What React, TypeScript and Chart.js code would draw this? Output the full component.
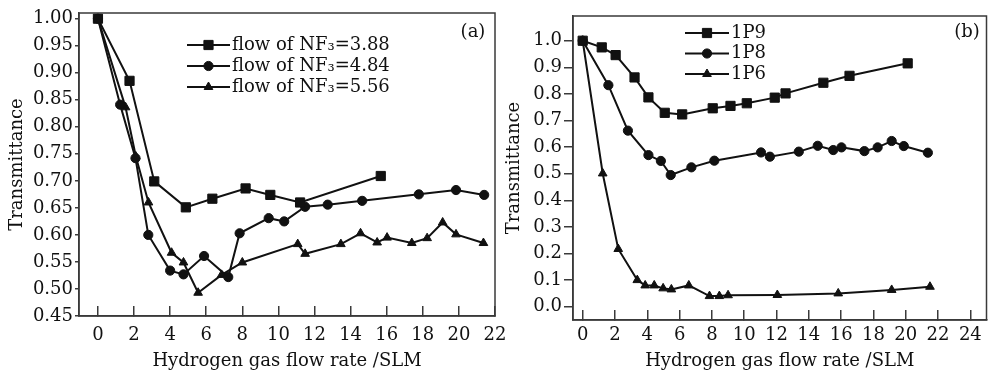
import React, { useEffect, useRef } from "react";
import { Chart, registerables } from "chart.js";
import { drawPoint } from "chart.js/helpers";

Chart.register(...registerables);

const FONT = "'DejaVu Serif', 'Liberation Serif', serif";
const INK = "#111111";
const AXIS = "#3a3a3a";

// ---------- Panel (a) ----------
const aLabels = ["flow of NF\u2083=3.88", "flow of NF\u2083=4.84", "flow of NF\u2083=5.56"];
const aX1 = [0, 1.75, 3.12, 4.87, 6.34, 8.18, 9.55, 11.2, 15.67];
const aY1 = [1.0, 0.885, 0.699, 0.651, 0.667, 0.686, 0.674, 0.66, 0.709];
const aX2 = [0, 1.23, 2.08, 2.79, 4.0, 4.74, 5.88, 7.22, 7.85, 9.46, 10.32, 11.48, 12.73, 14.64, 17.78, 19.84, 21.4];
const aY2 = [1.0, 0.841, 0.742, 0.6, 0.534, 0.527, 0.561, 0.522, 0.603, 0.631, 0.625, 0.652, 0.656, 0.663, 0.675, 0.683, 0.674];
const aX3 = [0, 1.53, 2.1, 2.8, 4.08, 4.74, 5.55, 6.85, 8.0, 11.07, 11.48, 13.46, 14.55, 15.47, 16.02, 17.39, 18.24, 19.1, 19.84, 21.36];
const aY3 = [1.0, 0.836, 0.745, 0.66, 0.567, 0.549, 0.493, 0.526, 0.549, 0.583, 0.565, 0.583, 0.603, 0.586, 0.595, 0.585, 0.594, 0.623, 0.601, 0.585];
const aXTicks = [0, 2, 4, 6, 8, 10, 12, 14, 16, 18, 20, 22];
const aYTicks = [0.45, 0.5, 0.55, 0.6, 0.65, 0.7, 0.75, 0.8, 0.85, 0.9, 0.95, 1.0];

// ---------- Panel (b) ----------
const bLabels = ["1P9", "1P8", "1P6"];
const bX1 = [0, 1.18, 2.04, 3.21, 4.07, 5.08, 6.16, 8.05, 9.15, 10.16, 11.89, 12.56, 14.9, 16.52, 20.12];
const bY1 = [1.0, 0.975, 0.946, 0.862, 0.787, 0.729, 0.723, 0.746, 0.755, 0.765, 0.786, 0.802, 0.842, 0.868, 0.915];
const bX2 = [0, 1.59, 2.8, 4.07, 4.84, 5.45, 6.73, 8.15, 11.04, 11.59, 13.38, 14.55, 15.51, 16.02, 17.44, 18.26, 19.13, 19.88, 21.37];
const bY2 = [1.0, 0.833, 0.662, 0.57, 0.548, 0.495, 0.524, 0.549, 0.58, 0.564, 0.583, 0.605, 0.589, 0.599, 0.585, 0.599, 0.623, 0.604, 0.579];
const bX3 = [0, 1.24, 2.2, 3.38, 3.87, 4.43, 4.98, 5.49, 6.57, 7.85, 8.46, 9.0, 12.05, 15.82, 19.13, 21.5];
const bY3 = [1.0, 0.501, 0.217, 0.1, 0.08, 0.08, 0.069, 0.065, 0.08, 0.04, 0.04, 0.043, 0.044, 0.05, 0.063, 0.075];
const bXTicks = [0, 2, 4, 6, 8, 10, 12, 14, 16, 18, 20, 22, 24];
const bYTicks = [0, 0.1, 0.2, 0.3, 0.4, 0.5, 0.6, 0.7, 0.8, 0.9, 1.0];

const xTitle = "Hydrogen gas flow rate /SLM";
const yTitle = "Transmittance";

const styles = [
  { pointStyle: "rect", pointRadius: 6.5 },
  { pointStyle: "circle", pointRadius: 4.6 },
  { pointStyle: "triangle", pointRadius: 5 },
];

const pairs = (xs: number[], ys: number[]) => xs.map((x, i) => ({ x, y: ys[i] }));

const overlayPlugin = {
  id: "overlay",
  afterDraw(chart: any, _args: any, opts: any) {
    const ctx = chart.ctx as CanvasRenderingContext2D;
    const { left, top, right, bottom } = chart.chartArea;
    ctx.save();
    ctx.strokeStyle = AXIS;
    ctx.lineWidth = 1.5;
    ctx.strokeRect(left, top, right - left, bottom - top);
    ctx.font = `18px ${FONT}`;
    chart.data.datasets.forEach((ds: any, i: number) => {
      const y = opts.rows[i];
      ctx.strokeStyle = INK;
      ctx.lineWidth = 2;
      ctx.beginPath();
      ctx.moveTo(opts.x0, y);
      ctx.lineTo(opts.x1, y);
      ctx.stroke();
      ctx.fillStyle = INK;
      ctx.lineWidth = 1;
      drawPoint(
        ctx,
        { pointStyle: ds.pointStyle, radius: ds.pointRadius, rotation: 0, borderWidth: 1 } as any,
        (opts.x0 + opts.x1) / 2,
        y
      );
      ctx.fillStyle = INK;
      ctx.textAlign = "left";
      ctx.textBaseline = "middle";
      ctx.fillText(ds.label, opts.xText, y);
    });
    ctx.textAlign = "center";
    ctx.textBaseline = "middle";
    ctx.fillText(opts.tag, opts.tagX, opts.tagY);
    ctx.restore();
  },
};

type Spec = {
  left: number;
  width: number;
  labels: string[];
  xs: number[][];
  ys: number[][];
  xTicks: number[];
  yTicks: number[];
  xMin: number;
  xMax: number;
  yMin: number;
  yMax: number;
  yDigits: number;
  yAxisW: number;
  xAxisH: number;
  padTop: number;
  padRight: number;
  yTickLen: number;
  xLabelPad: number;
  yTitlePad: number;
  legend: any;
};

function buildConfig(s: Spec): any {
  const font = { family: FONT, size: 18 };
  return {
    type: "line",
    data: {
      datasets: s.labels.map((label, i) => ({
        label,
        data: pairs(s.xs[i], s.ys[i]),
        borderColor: INK,
        backgroundColor: INK,
        borderWidth: 2,
        pointBackgroundColor: INK,
        pointBorderColor: INK,
        pointBorderWidth: 1,
        tension: 0,
        ...styles[i],
      })),
    },
    options: {
      animation: false,
      responsive: false,
      layout: { padding: { top: s.padTop, right: s.padRight, left: 0, bottom: 0 } },
      plugins: {
        legend: { display: false },
        tooltip: { enabled: false },
        overlay: s.legend,
      },
      scales: {
        x: {
          type: "linear",
          min: s.xMin,
          max: s.xMax,
          afterBuildTicks: (sc: any) => {
            sc.ticks = s.xTicks.map((v) => ({ value: v }));
          },
          afterFit: (sc: any) => {
            sc.height = s.xAxisH;
            sc.paddingLeft = 0;
            sc.paddingRight = 0;
          },
          grid: { drawOnChartArea: false, drawTicks: true, tickLength: -10, color: AXIS, lineWidth: 1.5 },
          border: { display: true, color: AXIS, width: 1.5 },
          ticks: {
            font,
            color: INK,
            padding: s.xLabelPad,
            maxRotation: 0,
            autoSkip: false,
            callback: (v: any) => String(v),
          },
          title: { display: true, text: xTitle, font, color: INK, padding: { top: 0, bottom: 2 } },
        },
        y: {
          type: "linear",
          min: s.yMin,
          max: s.yMax,
          afterBuildTicks: (sc: any) => {
            sc.ticks = s.yTicks.map((v) => ({ value: v }));
          },
          afterFit: (sc: any) => {
            sc.width = s.yAxisW;
            sc.paddingTop = 0;
            sc.paddingBottom = 0;
          },
          grid: { drawOnChartArea: false, drawTicks: true, tickLength: s.yTickLen, color: AXIS, lineWidth: 1.5 },
          border: { display: true, color: AXIS, width: 1.5 },
          ticks: {
            font,
            color: INK,
            padding: 2,
            autoSkip: false,
            callback: (v: any) => Number(v).toFixed(s.yDigits),
          },
          title: { display: true, text: yTitle, font, color: INK, padding: { top: s.yTitlePad, bottom: 0 } },
        },
      },
    },
    plugins: [overlayPlugin],
  };
}

const specA: Spec = {
  left: 0,
  width: 520,
  labels: aLabels,
  xs: [aX1, aX2, aX3],
  ys: [aY1, aY2, aY3],
  xTicks: aXTicks,
  yTicks: aYTicks,
  xMin: -1.05,
  xMax: 22,
  yMin: 0.45,
  yMax: 1.0105,
  yDigits: 2,
  yAxisW: 79,
  xAxisH: 58,
  padTop: 13,
  padRight: 25,
  yTickLen: 4,
  xLabelPad: 19,
  yTitlePad: 7,
  legend: { rows: [45, 66, 87], x0: 187, x1: 230, xText: 232, tag: "(a)", tagX: 473, tagY: 32 },
};

const specB: Spec = {
  left: 500,
  width: 494,
  labels: bLabels,
  xs: [bX1, bX2, bX3],
  ys: [bY1, bY2, bY3],
  xTicks: bXTicks,
  yTicks: bYTicks,
  xMin: -0.6,
  xMax: 25,
  yMin: -0.05,
  yMax: 1.093,
  yDigits: 1,
  yAxisW: 73,
  xAxisH: 54,
  padTop: 16,
  padRight: 2,
  yTickLen: 9,
  xLabelPad: 15,
  yTitlePad: 4,
  legend: { rows: [33, 53.5, 74], x0: 185, x1: 229, xText: 231, tag: "(b)", tagX: 467, tagY: 32 },
};

function Panel({ spec }: { spec: Spec }) {
  const ref = useRef<HTMLCanvasElement>(null);
  useEffect(() => {
    const chart = new Chart(ref.current as HTMLCanvasElement, buildConfig(spec));
    return () => chart.destroy();
  }, [spec]);
  return (
    <canvas
      ref={ref}
      width={spec.width}
      height={374}
      style={{ position: "absolute", left: spec.left, top: 0, width: spec.width, height: 374, display: "block" }}
    />
  );
}

export default function App() {
  return (
    <div style={{ position: "fixed", left: 0, top: 0, width: 994, height: 374, background: "#ffffff" }}>
      <Panel spec={specA} />
      <Panel spec={specB} />
    </div>
  );
}
